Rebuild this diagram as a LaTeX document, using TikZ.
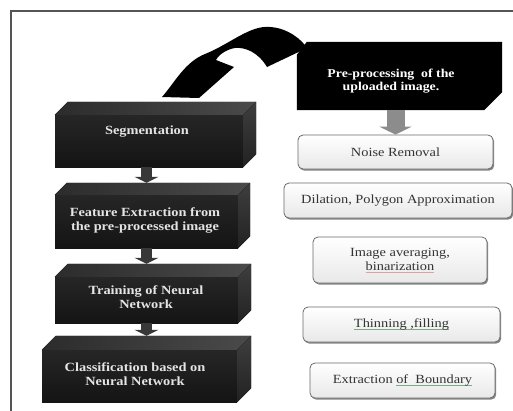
\documentclass[tikz,border=0pt]{standalone}
\usepackage{fontspec}
\setmainfont{Liberation Serif}[FakeStretch=1.15]
\usetikzlibrary{arrows.meta,shadows,calc}
\definecolor{frontA}{HTML}{262626}
\definecolor{frontB}{HTML}{141414}
\definecolor{topA}{HTML}{2C2C2C}
\definecolor{topB}{HTML}{4A4A4A}
\definecolor{sideA}{HTML}{3E3E3E}
\definecolor{sideB}{HTML}{222222}
\definecolor{ltextc}{HTML}{E4E4E4}
\definecolor{rtextc}{HTML}{333333}
\definecolor{boxedge}{HTML}{6A6A6A}
\definecolor{boxfillB}{HTML}{E8E8E8}
\definecolor{lconnc}{HTML}{383838}
\definecolor{garc}{HTML}{8C8C8C}
\definecolor{framec}{HTML}{555555}
\definecolor{ulgreen}{HTML}{7FA98A}
\definecolor{ulred}{HTML}{E0A0A8}
\newcommand\myul[2]{\setbox0\hbox{#2}\rlap{\color{#1}\rule[-2.2pt]{\wd0}{0.6pt}}\box0}
\newcommand\mycube[2]{%
  \fill[left color=topA,right color=topB] (#1.north west) -- ++(#2,-#2) -- ($(#1.north east)+(#2,-#2)$) -- (#1.north east) -- cycle;
  \fill[top color=sideA,bottom color=sideB] (#1.north east) -- ++(#2,-#2) -- ($(#1.south east)+(#2,-#2)$) -- (#1.south east) -- cycle;}
\begin{document}
\begin{tikzpicture}[x=1pt,y=-1pt,
  front/.style={rectangle,inner sep=0pt,top color=frontA,bottom color=frontB},
  ltext/.style={text=ltextc,font=\bfseries\fontsize{12.5}{14}\selectfont,align=center,inner sep=0pt},
  rbox/.style={rectangle,rounded corners=5pt,draw=boxedge,line width=0.8pt,top color=white,bottom color=boxfillB,
     drop shadow={shadow xshift=1.2pt,shadow yshift=-1.6pt,fill=black!60,opacity=0.8},
     text=rtextc,font=\fontsize{12.5}{14}\selectfont,align=center,inner sep=0pt},
  lconn/.style={draw=lconnc,line width=11pt,-{Triangle[width=24pt,length=6pt]}},
  garrow/.style={draw=garc,line width=18pt,-{Triangle[width=32pt,length=8pt]}},
  frame/.style={draw=framec,line width=1.5pt}]
\useasboundingbox (0,0) rectangle (513,410);
\begin{scope}
  \clip (0,0) rectangle (513,410);
  \draw[frame] (11,11) rectangle (530,430);
\end{scope}

% left 3D boxes
\node[front,minimum width=188pt,minimum height=52pt] (seg) at (149,141) {};
\mycube{seg}{13}
\node[ltext] (segt) at (147,132) {Segmentation};

\node[front,minimum width=183pt,minimum height=53pt] (feat) at (146.5,221.5) {};
\mycube{feat}{12}
\node[ltext] (featt) at (145,220) {Feature Extraction from\\the pre-processed image};

\node[front,minimum width=183pt,minimum height=46pt] (train) at (146.5,300) {};
\mycube{train}{13}
\node[ltext] (traint) at (146,297) {Training of Neural\\Network};

\node[front,minimum width=195pt,minimum height=52pt] (class) at (139.5,376) {};
\mycube{class}{14}
\node[ltext] (classt) at (135,374) {Classification based on\\Neural Network};

\draw[lconn,shorten >=12pt] (feat.north |- seg.south) -- (feat.north);
\draw[lconn,shorten >=13pt] (train.north |- feat.south) -- (train.north);
\draw[lconn,shorten >=14pt] (train.south) -- (train.south |- class.north);

% pre-processing box
\node[rectangle,minimum width=205pt,minimum height=68pt,inner sep=0pt] (pre) at (399.5,76) {};
\fill[black] ($(pre.north west)+(10,0)$) -- (pre.north east) -- ($(pre.south east)+(0,-18)$)
  -- ($(pre.south east)+(-18,0)$) -- (pre.south west) -- ($(pre.north west)+(0,13)$) -- cycle;
\node[text=white,font=\bfseries\fontsize{12}{13}\selectfont,align=center,inner sep=0pt] (pret) at (391,81)
  {Pre-processing\ \ of the\\uploaded image.};

% curved black arrow
\fill[black] (162,97) .. controls (175,82) and (185,62) .. (205,54)
  .. controls (230,44) and (250,25) .. (270,27)
  .. controls (288,28) and (302,40) .. (307,48)
  -- (267,67) .. controls (258,52) and (245,47) .. (235,48)
  .. controls (228,49) and (219,54) .. (216,60)
  -- (234,67) -- (199,98) -- cycle;

% right boxes
\node[rbox,minimum width=195pt,minimum height=34pt] (noise) at (395.5,152) {Noise Removal};
\node[rbox,minimum width=228pt,minimum height=35pt] (dil) at (398,200.5) {Dilation, Polygon Approximation};
\node[rbox,minimum width=174pt,minimum height=46pt] (avg) at (400,260) {Image averaging,\\\myul{ulred}{binarization}};
\node[rbox,minimum width=197pt,minimum height=35pt] (thin) at (401.5,324.5) {\myul{ulgreen}{Thinning ,filling}};
\node[rbox,minimum width=185pt,minimum height=35pt] (ext) at (402.5,380.5) {Extraction \myul{ulgreen}{of\ \ Boundary}};

\draw[garrow] (noise.north |- pre.south) -- (noise.north);
\end{tikzpicture}
\end{document}
